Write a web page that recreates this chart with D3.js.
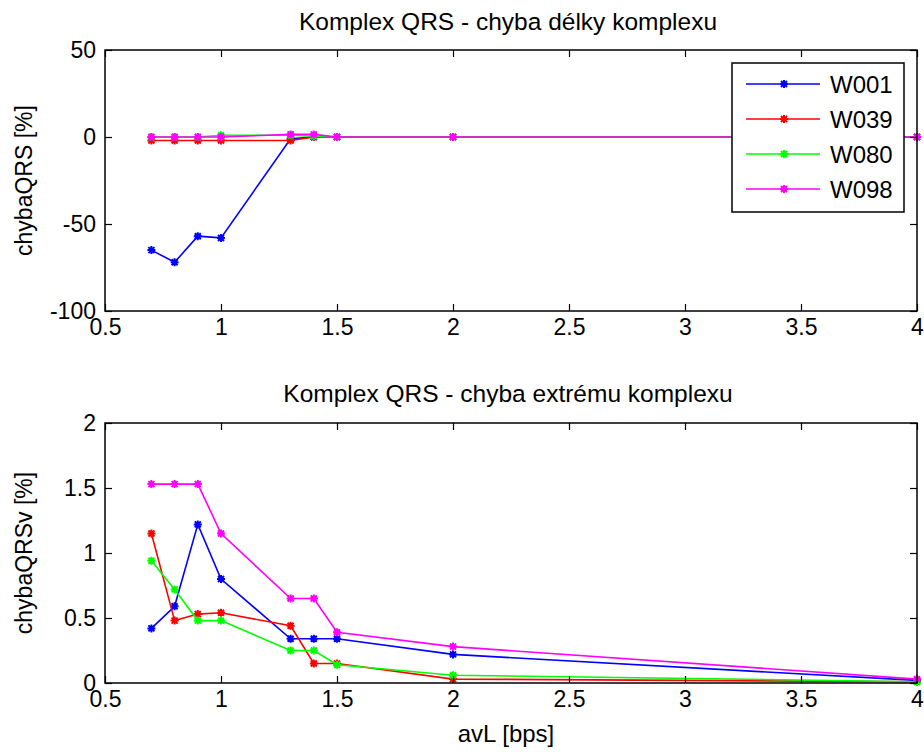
<!DOCTYPE html>
<html><head><meta charset="utf-8">
<script src="https://cdn.jsdelivr.net/npm/d3@7"></script>
<style>
body{margin:0;background:#fff;}
text{font-family:"Liberation Sans",Arial,sans-serif;fill:#000;}
</style></head>
<body><svg id="c" width="924" height="752"></svg>
<script>
const xVals = [0.7, 0.8, 0.9, 1.0, 1.3, 1.4, 1.5, 2, 4];
const seriesNames = ["W001", "W039", "W080", "W098"];
const seriesColors = ["#0000ff", "#ff0000", "#00ff00", "#ff00ff"];
// top: chyba délky komplexu [%]
const topW001 = [-65, -72, -57, -58, -1, 0, 0, 0, 0];
const topW039 = [-2, -2, -2, -2, -2, 0, 0, 0, 0];
const topW080 = [0, 0, 0, 1, 1, 0.5, 0, 0, 0];
const topW098 = [0, 0, 0, 0, 1.5, 1.5, 0, 0, 0];
// bottom: chyba extrému komplexu [%]
const botW001 = [0.42, 0.59, 1.22, 0.80, 0.34, 0.34, 0.34, 0.22, 0.02];
const botW039 = [1.15, 0.48, 0.53, 0.54, 0.44, 0.15, 0.15, 0.03, 0.01];
const botW080 = [0.94, 0.72, 0.48, 0.48, 0.25, 0.25, 0.14, 0.06, 0.01];
const botW098 = [1.53, 1.53, 1.53, 1.15, 0.65, 0.65, 0.39, 0.28, 0.03];
const xTicks = [0.5, 1, 1.5, 2, 2.5, 3, 3.5, 4];
const topYTicks = [-100, -50, 0, 50];
const botYTicks = [0, 0.5, 1, 1.5, 2];
const topTitle = "Komplex QRS - chyba délky komplexu";
const botTitle = "Komplex QRS - chyba extrému komplexu";
const topYLabel = "chybaQRS [%]";
const botYLabel = "chybaQRSv [%]";
const xLabel = "avL [bps]";

const svg = d3.select("#c");
const L = 105, R = 917;
const x = d3.scaleLinear().domain([0.5, 4]).range([L, R]);
const plainFmt = d => String(d);

function marker(g, cx, cy, col) {
  const s = 4;
  g.append("path")
    .attr("d", `M${cx-s},${cy}L${cx+s},${cy}M${cx},${cy-s}L${cx},${cy+s}M${cx-3},${cy-3}L${cx+3},${cy+3}M${cx-3},${cy+3}L${cx+3},${cy-3}`)
    .attr("stroke", col).attr("stroke-width", 2).attr("fill", "none");
  g.append("circle").attr("cx", cx).attr("cy", cy).attr("r", 2.5).attr("fill", col);
}

function panel(top, bottom, domain, yTicks, data, title, ylab, titleY) {
  const y = d3.scaleLinear().domain(domain).range([bottom, top]);
  const g = svg.append("g");
  g.append("rect").attr("x", L).attr("y", top).attr("width", R - L).attr("height", bottom - top)
    .attr("fill", "#fff");
  data.forEach((vals, i) => {
    const pts = xVals.map((xv, j) => [x(xv), y(vals[j])]);
    g.append("path").attr("d", d3.line()(pts)).attr("fill", "none")
      .attr("stroke", seriesColors[i]).attr("stroke-width", 1.6);
    pts.forEach(p => marker(g, p[0], p[1], seriesColors[i]));
  });
  const ax = (a) => a.call(s => s.select(".domain").remove())
    .call(s => s.selectAll("line").attr("stroke", "#000").attr("stroke-width", 1.2))
    .call(s => s.selectAll("text").attr("font-size", 23).attr("fill", "#000").attr("font-family", '"Liberation Sans",Arial,sans-serif'));
  g.append("g").attr("transform", `translate(0,${bottom})`)
    .call(d3.axisBottom(x).tickValues(xTicks).tickSize(-7).tickPadding(8).tickFormat(plainFmt))
    .call(ax);
  g.append("g").attr("transform", `translate(0,${top})`)
    .call(d3.axisTop(x).tickValues(xTicks).tickSize(-7).tickFormat(""))
    .call(ax);
  g.append("g").attr("transform", `translate(${L},0)`)
    .call(d3.axisLeft(y).tickValues(yTicks).tickSize(-7).tickPadding(9).tickFormat(plainFmt))
    .call(ax);
  g.append("g").attr("transform", `translate(${R},0)`)
    .call(d3.axisRight(y).tickValues(yTicks).tickSize(-7).tickFormat(""))
    .call(ax);
  g.append("rect").attr("x", L).attr("y", top).attr("width", R - L).attr("height", bottom - top)
    .attr("fill", "none").attr("stroke", "#000").attr("stroke-width", 1.5);
  g.append("text").attr("x", (L + R) / 2 - 3).attr("y", titleY).attr("text-anchor", "middle")
    .attr("font-size", 24.5).text(title);
  g.append("text").attr("transform", `translate(32,${(top + bottom) / 2}) rotate(-90)`)
    .attr("text-anchor", "middle").attr("font-size", 23).text(ylab);
  return {g, y};
}

panel(50, 311, [-100, 50], topYTicks, [topW001, topW039, topW080, topW098],
  topTitle, topYLabel, 30);
panel(423, 683, [0, 2], botYTicks, [botW001, botW039, botW080, botW098],
  botTitle, botYLabel, 402);

svg.append("text").attr("x", (L + R) / 2 - 5).attr("y", 742).attr("text-anchor", "middle")
  .attr("font-size", 24).text(xLabel);

// legend
const lg = svg.append("g");
lg.append("rect").attr("x", 732).attr("y", 63).attr("width", 172).attr("height", 149)
  .attr("fill", "#fff").attr("stroke", "#000").attr("stroke-width", 1.5);
const rowY = d3.scalePoint().domain(seriesNames).range([84, 189]);
seriesNames.forEach((n, i) => {
  const yy = rowY(n);
  lg.append("line").attr("x1", 746).attr("x2", 820).attr("y1", yy).attr("y2", yy)
    .attr("stroke", seriesColors[i]).attr("stroke-width", 1.5);
  marker(lg, 784, yy, seriesColors[i]);
  lg.append("text").attr("x", 830).attr("y", yy + 8.5).attr("font-size", 24).text(n);
});
</script></body></html>
